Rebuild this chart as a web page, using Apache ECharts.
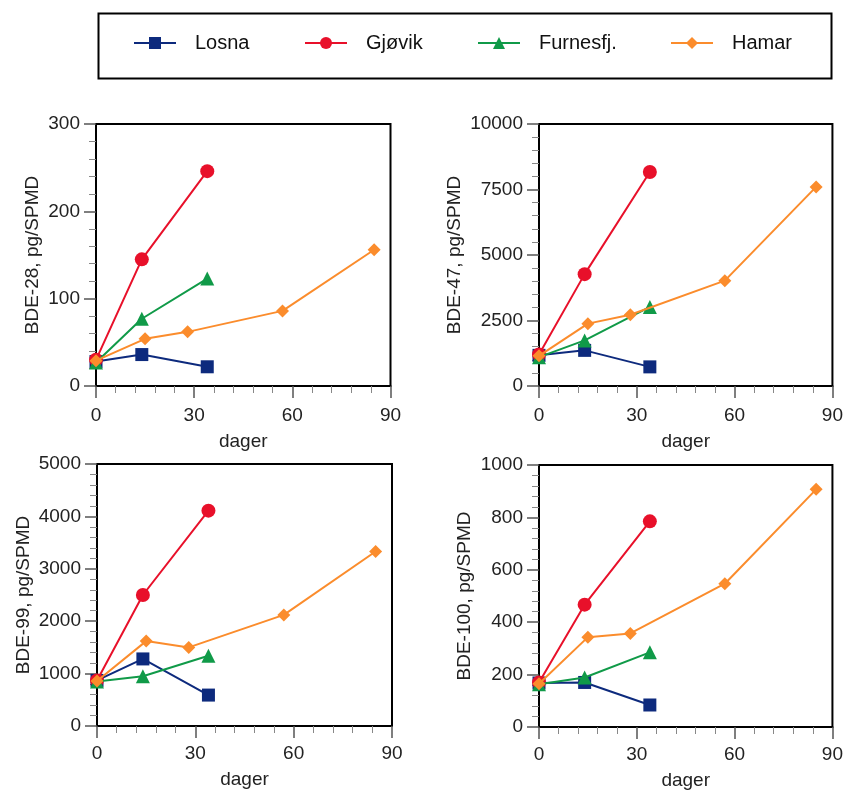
<!DOCTYPE html>
<html>
<head>
<meta charset="utf-8">
<script src="https://cdn.jsdelivr.net/npm/echarts@6/dist/echarts.min.js"></script>
<style>
  html, body { margin: 0; padding: 0; background: #fff; }
  #chart { width: 846px; height: 792px; }
</style>
</head>
<body>
<div id="chart"></div>
<script>
// ---- data ----
const seriesNames = ['Losna', 'Gjøvik', 'Furnesfj.', 'Hamar'];
const daysShort = [0, 14, 34];          // Losna, Gjøvik, Furnesfj.
const daysHamar = [0, 15, 28, 57, 85];  // Hamar
const xTicks = [0, 30, 60, 90];

const panelNames = ['BDE-28, pg/SPMD', 'BDE-47, pg/SPMD', 'BDE-99, pg/SPMD', 'BDE-100, pg/SPMD'];
const yMax = [300, 10000, 5000, 1000];
const yStep = [100, 2500, 1000, 200];

const bde28Losna = [28, 36, 22];
const bde28Gjovik = [30, 145, 246];
const bde28Furnes = [27, 77, 123];
const bde28Hamar = [29, 54, 62, 86, 156];

const bde47Losna = [1170, 1360, 730];
const bde47Gjovik = [1200, 4270, 8170];
const bde47Furnes = [1100, 1740, 3020];
const bde47Hamar = [1150, 2380, 2720, 4020, 7600];

const bde99Losna = [870, 1280, 590];
const bde99Gjovik = [870, 2500, 4110];
const bde99Furnes = [850, 950, 1340];
const bde99Hamar = [860, 1620, 1500, 2120, 3330];

const bde100Losna = [168, 170, 84];
const bde100Gjovik = [170, 467, 785];
const bde100Furnes = [163, 189, 285];
const bde100Hamar = [165, 343, 357, 547, 907];

// ---- styling ----
const FONT = '"Liberation Sans", Arial, Helvetica, sans-serif';
const colors = ['#0d2a7d', '#e8102a', '#109a48', '#fb8c2c'];
const symbols = ['rect', 'circle', 'triangle', 'diamond'];
const symSizes = [13, 14, 14, 13];

const panels = [
  [bde28Losna, bde28Gjovik, bde28Furnes, bde28Hamar],
  [bde47Losna, bde47Gjovik, bde47Furnes, bde47Hamar],
  [bde99Losna, bde99Gjovik, bde99Furnes, bde99Hamar],
  [bde100Losna, bde100Gjovik, bde100Furnes, bde100Hamar]
];

const grids = [
  { left: 96, top: 124, width: 294.5, height: 262 },
  { left: 539, top: 124, width: 294.5, height: 262 },
  { left: 97, top: 464, width: 295, height: 262 },
  { left: 539, top: 465, width: 294.5, height: 262 }
];
const yNameGaps = [54, 75, 64, 65];
const xLabelMargins = [20, 20, 18, 18];
const xNameGaps = [46, 46, 44, 44];

const xAxes = [], yAxes = [], series = [];
grids.forEach((g, i) => {
  g.show = true; g.borderColor = '#000'; g.borderWidth = 2; g.containLabel = false;
  xAxes.push({
    gridIndex: i, type: 'value', min: 0, max: 90, interval: 30,
    name: 'dager', nameLocation: 'middle', nameGap: xNameGaps[i], nameMoveOverlap: false,
    nameTextStyle: { fontFamily: FONT, fontSize: 19, color: '#222' },
    axisLine: { show: true, lineStyle: { color: '#000', width: 2 } },
    axisTick: { show: true, length: 12, lineStyle: { color: '#555', width: 1.5 } },
    minorTick: { show: true, splitNumber: 5, length: 7, lineStyle: { color: '#888', width: 1 } },
    axisLabel: { margin: xLabelMargins[i], fontFamily: FONT, fontSize: 19, color: '#222',
      formatter: v => xTicks.includes(v) ? String(v) : '' },
    splitLine: { show: false }
  });
  yAxes.push({
    gridIndex: i, type: 'value', min: 0, max: yMax[i], interval: yStep[i],
    name: panelNames[i], nameLocation: 'middle', nameGap: yNameGaps[i], nameMoveOverlap: false,
    nameTextStyle: { fontFamily: FONT, fontSize: 19, color: '#222' },
    axisLine: { show: true, lineStyle: { color: '#000', width: 2 } },
    axisTick: { show: true, length: 12, lineStyle: { color: '#555', width: 1.5 } },
    minorTick: { show: true, splitNumber: 5, length: 7, lineStyle: { color: '#888', width: 1 } },
    axisLabel: { margin: 16, fontFamily: FONT, fontSize: 19, color: '#222',
      formatter: v => String(v) },
    splitLine: { show: false }
  });
  panels[i].forEach((vals, s) => {
    const days = s === 3 ? daysHamar : daysShort;
    series.push({
      name: seriesNames[s], type: 'line', xAxisIndex: i, yAxisIndex: i,
      data: vals.map((v, k) => [days[k], v]),
      symbol: symbols[s], symbolSize: symSizes[s], showSymbol: true,
      itemStyle: { color: colors[s] },
      lineStyle: { color: colors[s], width: 2 },
      animation: false, z: 2 + s
    });
  });
});

const legendLefts = [133, 304, 477, 670];
const legends = seriesNames.map((n, s) => ({
  data: [n], left: legendLefts[s], top: 33, padding: 0,
  itemWidth: 42, itemHeight: 15, selectedMode: false,
  textStyle: { fontFamily: FONT, fontSize: 20, color: '#111', padding: [0, 0, 0, 14] }
}));

const chart = echarts.init(document.getElementById('chart'), null, { renderer: 'canvas' });
chart.setOption({
  animation: false,
  backgroundColor: '#fff',
  color: colors,
  legend: legends,
  graphic: [{
    type: 'rect', left: 96, top: 11, silent: true,
    shape: { width: 733, height: 65 },
    style: { fill: 'none', stroke: '#000', lineWidth: 2 }
  }],
  grid: grids,
  xAxis: xAxes,
  yAxis: yAxes,
  series: series
});
</script>
</body>
</html>
